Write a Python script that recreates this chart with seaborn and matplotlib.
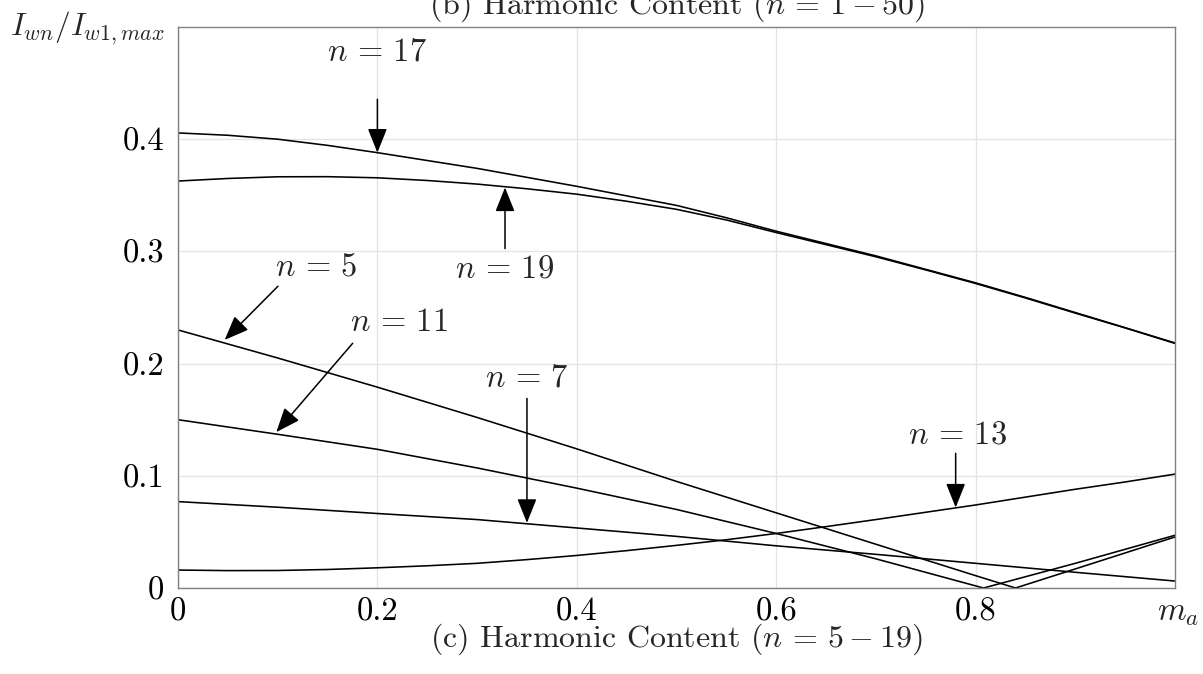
import numpy as np
import pandas as pd
import matplotlib
matplotlib.use("Agg")
import matplotlib.pyplot as plt
import seaborn as sns

# ---- data ----
m_17 = [0, 0.05, 0.1, 0.15, 0.2, 0.25, 0.3, 0.35, 0.4, 0.45, 0.5,
        0.55, 0.6, 0.65, 0.7, 0.75, 0.8, 0.85, 0.9, 0.95, 1.0]
i_17 = [0.4056, 0.4035, 0.400, 0.3945, 0.388, 0.381, 0.374, 0.366, 0.358, 0.3495, 0.341,
        0.330, 0.318, 0.307, 0.296, 0.284, 0.272, 0.259, 0.2455, 0.232, 0.2184]

m_19 = [0, 0.05, 0.1, 0.15, 0.2, 0.25, 0.3, 0.35, 0.4, 0.45, 0.5,
        0.55, 0.6, 0.65, 0.7, 0.75, 0.8, 0.85, 0.9, 0.95, 1.0]
i_19 = [0.3627, 0.3650, 0.3665, 0.3666, 0.3656, 0.3632, 0.360, 0.3558, 0.351, 0.3447, 0.3375,
        0.328, 0.3168, 0.306, 0.2952, 0.2835, 0.2714, 0.2585, 0.2450, 0.2318, 0.2180]

m_5 = [0, 0.1, 0.2, 0.3, 0.4, 0.5, 0.6, 0.7, 0.8, 0.84, 0.9, 1.0]
i_5 = [0.230, 0.205, 0.179, 0.152, 0.124, 0.095, 0.067, 0.039, 0.011, 0.0, 0.017, 0.0455]

m_11 = [0, 0.1, 0.2, 0.3, 0.4, 0.5, 0.6, 0.7, 0.8, 0.808, 0.9, 1.0]
i_11 = [0.150, 0.137, 0.1236, 0.107, 0.089, 0.070, 0.0486, 0.026, 0.0019, 0.0, 0.022, 0.047]

m_7 = [0, 0.1, 0.2, 0.3, 0.4, 0.5, 0.6, 0.7, 0.8, 0.9, 1.0]
i_7 = [0.077, 0.072, 0.0664, 0.061, 0.0535, 0.046, 0.0376, 0.030, 0.022, 0.014, 0.0062]

m_13 = [0, 0.05, 0.1, 0.15, 0.2, 0.25, 0.3, 0.35, 0.4, 0.45, 0.5,
        0.55, 0.6, 0.65, 0.7, 0.75, 0.8, 0.85, 0.9, 0.95, 1.0]
i_13 = [0.016, 0.0155, 0.0156, 0.0165, 0.018, 0.0198, 0.022, 0.0253, 0.029, 0.0333, 0.038,
        0.043, 0.0486, 0.0547, 0.061, 0.0675, 0.074, 0.081, 0.088, 0.0945, 0.1015]

x_ticks = [0, 0.2, 0.4, 0.6, 0.8]
x_tick_labels = ["0", "0.2", "0.4", "0.6", "0.8"]
y_ticks = [0, 0.1, 0.2, 0.3, 0.4]
y_tick_labels = ["0", "0.1", "0.2", "0.3", "0.4"]

# label, text position, arrow tail, arrow tip
labels = [
    (r"$n\,=\,17$", (0.200, 0.478), (0.200, 0.4356), (0.200, 0.388)),
    (r"$n\,=\,19$", (0.328, 0.2845), (0.328, 0.3025), (0.328, 0.357)),
    (r"$n\,=\,5$", (0.1384, 0.2862), (0.1003, 0.269), (0.0468, 0.2211)),
    (r"$n\,=\,11$", (0.2217, 0.2364), (0.1752, 0.2181), (0.0986, 0.1389)),
    (r"$n\,=\,7$", (0.350, 0.1876), (0.350, 0.169), (0.350, 0.058)),
    (r"$n\,=\,13$", (0.782, 0.136), (0.780, 0.120), (0.780, 0.0717)),
]

series = [("17", m_17, i_17), ("19", m_19, i_19), ("5", m_5, i_5),
          ("11", m_11, i_11), ("7", m_7, i_7), ("13", m_13, i_13)]
df = pd.concat([pd.DataFrame({"m": m, "I": v, "n": n}) for n, m, v in series],
               ignore_index=True)

# ---- style ----
sns.set_style("white")
plt.rcParams["font.family"] = ["cmr10", "DejaVu Serif"]
plt.rcParams["mathtext.fontset"] = "cm"
plt.rcParams["axes.unicode_minus"] = False
plt.rcParams["axes.formatter.use_mathtext"] = True

FS = 23.5
fig = plt.figure(figsize=(12.03, 6.74), dpi=100)
ax = fig.add_axes([178 / 1203, (674 - 588) / 674, (1175 - 178) / 1203, (588 - 27) / 674])

sns.lineplot(data=df, x="m", y="I", units="n", estimator=None, color="black",
             linewidth=1.15, sort=False, ax=ax, legend=False)

ax.set_xlim(0, 1)
ax.set_ylim(0, 0.5)
ax.set_xticks(x_ticks)
ax.set_xticklabels(x_tick_labels)
ax.set_yticks(y_ticks)
ax.set_yticklabels(y_tick_labels)
ax.tick_params(axis="both", direction="in", length=6.5, width=0.8,
               color="#262626", labelsize=FS, labelcolor="black")
ax.tick_params(axis="x", pad=7)
ax.tick_params(axis="y", pad=10)
ax.grid(True, color="#e3e3e3", linewidth=0.9)
ax.set_axisbelow(True)
for s in ax.spines.values():
    s.set_color("#808080")
    s.set_linewidth(1.0)
ax.set_xlabel("")
ax.set_ylabel("")

for txt, tpos, tail, tip in labels:
    ax.text(tpos[0], tpos[1], txt, ha="center", va="center", fontsize=FS)
    ax.annotate("", xy=tip, xytext=tail,
                arrowprops=dict(arrowstyle="-|>,head_length=0.75,head_width=0.3",
                                mutation_scale=20, color="black", lw=1.1,
                                shrinkA=0, shrinkB=0))

fig.text(10 / 1203, (674 - 35) / 674, r"$I_{wn}/I_{w1,max}$", fontsize=22.5,
         ha="left", va="baseline")
fig.text(1178 / 1203, (674 - 620) / 674, r"$m_a$", fontsize=FS,
         ha="center", va="baseline")
fig.text(676.5 / 1203, (674 - 647) / 674, r"(c) Harmonic Content $(n\,=\,5-19)$",
         fontsize=23, ha="center", va="baseline")
fig.text(676.5 / 1203, (674 - 14) / 674, r"(b) Harmonic Content $(n\,=\,1-50)$",
         fontsize=23, ha="center", va="baseline")

fig.savefig("out.png", dpi=100, facecolor="white")
